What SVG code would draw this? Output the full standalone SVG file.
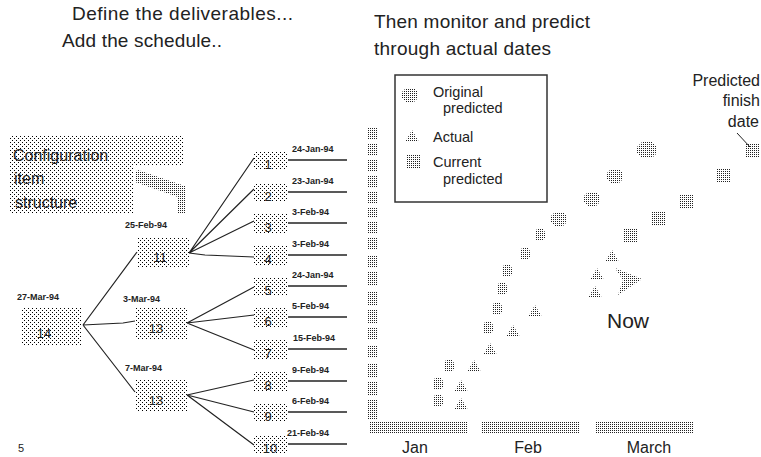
<svg xmlns="http://www.w3.org/2000/svg" width="761" height="457" viewBox="0 0 761 457">
  <style>
    text { font-family: "Liberation Sans", Arial, sans-serif; fill: #222; }
    .title { font-size: 19px; }
    .cfg { font-size: 16px; }
    .date { font-size: 9px; font-weight: bold; }
    .num { font-size: 13px; text-anchor: middle; }
    .legend { font-size: 14.5px; }
    .axis { font-size: 16px; text-anchor: middle; }
    .note { font-size: 16px; text-anchor: end; }
    .box { fill: url(#light); }
    .mark { fill: url(#dense); }
    .wire { stroke: #222; stroke-width: 1.2; fill: none; }
    .stub { stroke: #222; stroke-width: 1.5; }
  </style>
  <defs>
    <!-- sparse halftone used for text boxes and tree nodes -->
    <pattern id="light" width="4" height="4" patternUnits="userSpaceOnUse">
      <rect width="1" height="1" fill="#000"/>
      <rect x="2" y="2" width="1" height="1" fill="#000"/>
    </pattern>
    <!-- dense halftone used for chart markers and axes -->
    <pattern id="dense" width="2" height="2" patternUnits="userSpaceOnUse">
      <rect width="1" height="1" fill="#222"/>
    </pattern>
    <polygon id="hex" points="-5,-3 -3,-6 3,-6 5,-3 5,3 3,6 -3,6 -5,3"/>
    <polygon id="hexM" points="-8,-3 -4,-7 4,-7 8,-3 8,3 4,7 -4,7 -8,3"/>
    <polygon id="hexL" points="-10,-3 -5,-8 5,-8 10,-3 10,3 5,8 -5,8 -10,3"/>
    <polygon id="tri" points="0,-6 7,6 -7,6"/>
    <rect id="sq" x="-6" y="-7" width="13" height="14"/>
  </defs>

  <!-- headings -->
  <text class="title" x="72" y="20" textLength="221">Define the deliverables...</text>
  <text class="title" x="62" y="47" textLength="160">Add the schedule..</text>
  <text class="title" x="374" y="28" textLength="216">Then monitor and predict</text>
  <text class="title" x="374" y="55" textLength="177">through actual dates</text>

  <!-- configuration item note with its pointer -->
  <g id="config-note">
    <polygon class="box" points="10,135 183,135 183,165 133,165 133,213 10,213"/>
    <polygon class="mark" points="135,172 138,170 185,186 185,213 178,213 178,197 135,182"/>
    <text class="cfg" x="13" y="161">Configuration</text>
    <text class="cfg" x="14" y="184">item</text>
    <text class="cfg" x="15" y="208">structure</text>
  </g>

  <!-- tree connectors -->
  <g id="connectors">
    <path class="wire" d="M83,325 L137,252 M83,325 L123,323 L135,321 M83,325 L135,392"/>
    <path class="wire" d="M189,253 L254,158 M189,253 L254,189 M189,253 L254,221 M189,253 L205,255 L254,257"/>
    <path class="wire" d="M187,323 L254,287 M187,323 L254,315 M187,323 L254,350"/>
    <path class="wire" d="M187,395 L254,380 M187,395 L254,412 M187,395 L254,445"/>
  </g>

  <!-- tree nodes -->
  <g id="n14"><rect class="box" x="22" y="308" width="60" height="37"/><text class="num" x="44" y="338">14</text><text class="date" x="17" y="300">27-Mar-94</text></g>
  <g id="n11"><rect class="box" x="137" y="237" width="52" height="31"/><text class="num" x="160" y="262">11</text><text class="date" x="125" y="228">25-Feb-94</text></g>
  <g id="n13a"><rect class="box" x="135" y="308" width="52" height="32"/><text class="num" x="156" y="333">13</text><text class="date" x="123" y="302">3-Mar-94</text></g>
  <g id="n13b"><rect class="box" x="135" y="380" width="52" height="32"/><text class="num" x="156" y="405">13</text><text class="date" x="125" y="371">7-Mar-94</text></g>

  <g id="n1"><rect class="box" x="254" y="151" width="34" height="19"/><text class="num" x="268" y="169">1</text><line class="stub" x1="288" y1="160" x2="347" y2="160"/><text class="date" x="292" y="152">24-Jan-94</text></g>
  <g id="n2"><rect class="box" x="254" y="183" width="34" height="19"/><text class="num" x="268" y="201">2</text><line class="stub" x1="288" y1="192" x2="347" y2="192"/><text class="date" x="292" y="184">23-Jan-94</text></g>
  <g id="n3"><rect class="box" x="254" y="214" width="34" height="19"/><text class="num" x="268" y="232">3</text><line class="stub" x1="288" y1="223" x2="347" y2="223"/><text class="date" x="292" y="215">3-Feb-94</text></g>
  <g id="n4"><rect class="box" x="254" y="246" width="34" height="19"/><text class="num" x="268" y="264">4</text><line class="stub" x1="288" y1="255" x2="347" y2="255"/><text class="date" x="292" y="247">3-Feb-94</text></g>
  <g id="n5"><rect class="box" x="254" y="277" width="34" height="19"/><text class="num" x="268" y="295">5</text><line class="stub" x1="288" y1="286" x2="347" y2="286"/><text class="date" x="292" y="278">24-Jan-94</text></g>
  <g id="n6"><rect class="box" x="254" y="308" width="34" height="19"/><text class="num" x="268" y="326">6</text><line class="stub" x1="288" y1="317" x2="347" y2="317"/><text class="date" x="292" y="309">5-Feb-94</text></g>
  <g id="n7"><rect class="box" x="254" y="340" width="34" height="19"/><text class="num" x="268" y="358">7</text><line class="stub" x1="288" y1="349" x2="347" y2="349"/><text class="date" x="293" y="341">15-Feb-94</text></g>
  <g id="n8"><rect class="box" x="254" y="372" width="34" height="19"/><text class="num" x="268" y="390">8</text><line class="stub" x1="288" y1="381" x2="347" y2="381"/><text class="date" x="292" y="373">9-Feb-94</text></g>
  <g id="n9"><rect class="box" x="254" y="403" width="34" height="19"/><text class="num" x="268" y="421">9</text><line class="stub" x1="288" y1="412" x2="347" y2="412"/><text class="date" x="292" y="404">6-Feb-94</text></g>
  <g id="n10"><rect class="box" x="254" y="435" width="34" height="19"/><text class="num" x="270" y="453">10</text><line class="stub" x1="288" y1="444" x2="347" y2="444"/><text class="date" x="287" y="436">21-Feb-94</text></g>

  <text x="18" y="452" style="font-size:11px">5</text>

  <!-- chart axes -->
  <g id="axes" class="mark">
    <rect x="368" y="128" width="10" height="11"/>
    <rect x="368" y="144" width="10" height="11"/>
    <rect x="368" y="160" width="10" height="11"/>
    <rect x="368" y="176" width="10" height="11"/>
    <rect x="368" y="192" width="10" height="11"/>
    <rect x="368" y="207" width="10" height="11"/>
    <rect x="368" y="222" width="10" height="12"/>
    <rect x="368" y="237" width="10" height="13"/>
    <rect x="368" y="255" width="10" height="13"/>
    <rect x="368" y="272" width="10" height="14"/>
    <rect x="368" y="291" width="10" height="14"/>
    <rect x="368" y="309" width="10" height="14"/>
    <rect x="368" y="327" width="10" height="13"/>
    <rect x="368" y="345" width="10" height="13"/>
    <rect x="368" y="363" width="10" height="14"/>
    <rect x="368" y="381" width="10" height="14"/>
    <rect x="368" y="400" width="10" height="20"/>
    <rect x="369" y="421" width="99" height="12"/>
    <rect x="482" y="421" width="98" height="12"/>
    <rect x="595" y="421" width="98" height="12"/>
  </g>
  <text class="axis" x="415" y="453">Jan</text>
  <text class="axis" x="528" y="453">Feb</text>
  <text class="axis" x="649" y="453">March</text>

  <!-- legend -->
  <g id="legend">
    <rect x="395" y="75" width="152" height="127" fill="none" stroke="#333" stroke-width="1.5"/>
    <use href="#hexM" x="410" y="95" class="mark"/>
    <use href="#tri" x="412" y="136" class="mark"/>
    <use href="#sq" x="413" y="161" class="mark"/>
    <text class="legend" x="433" y="97">Original</text>
    <text class="legend" x="443" y="113">predicted</text>
    <text class="legend" x="433" y="142">Actual</text>
    <text class="legend" x="433" y="167">Current</text>
    <text class="legend" x="443" y="184">predicted</text>
  </g>

  <!-- original predicted dates -->
  <g id="original" class="mark">
    <use href="#hex" x="438" y="401"/>
    <use href="#hex" x="438" y="384"/>
    <use href="#hex" x="449" y="366"/>
    <use href="#hex" x="488" y="328"/>
    <use href="#hex" x="497" y="309"/>
    <use href="#hex" x="502" y="289"/>
    <use href="#hex" x="507" y="271"/>
    <use href="#hex" x="525" y="254"/>
    <use href="#hex" x="540" y="235"/>
    <use href="#hexM" x="559" y="219"/>
    <use href="#hexM" x="592" y="199"/>
    <use href="#hexM" x="615" y="176"/>
    <use href="#hexL" x="647" y="150"/>
  </g>

  <!-- actual dates -->
  <g id="actual" class="mark">
    <use href="#tri" x="461" y="404"/>
    <use href="#tri" x="461" y="386"/>
    <use href="#tri" x="474" y="366"/>
    <use href="#tri" x="490" y="349"/>
    <use href="#tri" x="513" y="331"/>
    <use href="#tri" x="535" y="311"/>
    <use href="#tri" x="595" y="292"/>
    <use href="#tri" x="597" y="274"/>
    <use href="#tri" x="612" y="256"/>
  </g>

  <!-- current predicted dates -->
  <g id="current" class="mark">
    <use href="#sq" x="630" y="235"/>
    <use href="#sq" x="658" y="218"/>
    <use href="#sq" x="686" y="201"/>
    <use href="#sq" x="723" y="175"/>
    <use href="#sq" x="752" y="150"/>
  </g>

  <!-- today marker -->
  <g id="now">
    <polygon class="mark" points="615,268 642,279 618,295 623,280"/>
    <text x="607" y="328" style="font-size:21px">Now</text>
  </g>

  <!-- finish-date callout -->
  <g id="finish-note">
    <text class="note" x="760" y="86">Predicted</text>
    <text class="note" x="760" y="106">finish</text>
    <text class="note" x="759" y="127">date</text>
    <line x1="737" y1="133" x2="750" y2="147" stroke="#222" stroke-width="1"/>
  </g>
</svg>
